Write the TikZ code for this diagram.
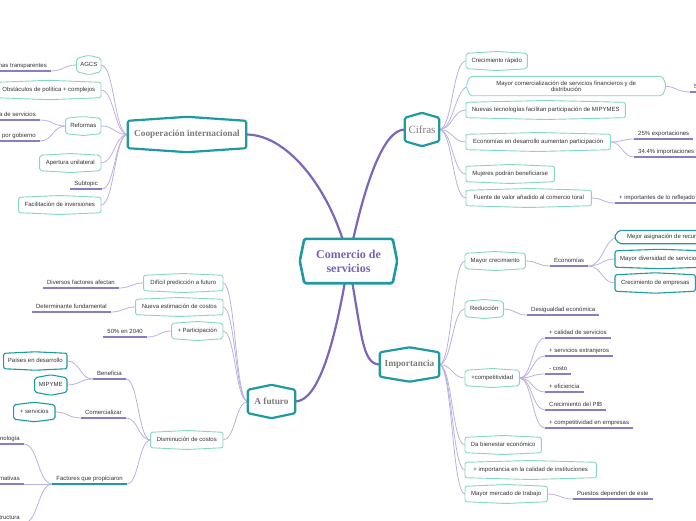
\documentclass[tikz,border=0pt]{standalone}
\usepackage{fontspec}
\setmainfont{Liberation Sans}
\newfontfamily\topicfont{Liberation Serif}
\usetikzlibrary{calc}
\definecolor{teal1}{HTML}{1E9AA0}
\definecolor{mint}{HTML}{86D6C5}
\definecolor{mainline}{HTML}{7D66B8}
\definecolor{lav}{HTML}{BCB0E2}
\definecolor{ulc}{HTML}{8D7CC3}
\definecolor{txt}{HTML}{333333}
\definecolor{topictxt}{HTML}{7B7B7B}
\definecolor{roottxt}{HTML}{7A62B3}
\pgfdeclarelayer{lines}
\pgfdeclarelayer{shapes}
\pgfsetlayers{lines,shapes,main}
\tikzset{
 every node/.style={font=\fontsize{6}{6.6}\selectfont, text=txt},
 bx/.style={inner sep=0pt, minimum height=15pt, text height=4.3pt, text depth=1.3pt},
 tl/.style={inner xsep=4pt, inner ysep=2.1pt, text height=4.3pt, text depth=1.3pt,
   append after command={(\tikzlastnode.south west) edge[draw=#1, line width=1.8pt] (\tikzlastnode.south east)}},
 tl/.default=ulc,
 light/.style={draw=mint, line width=0.9pt, fill=white, rounded corners=2pt},
 dark/.style={draw=teal1, line width=1.1pt, fill=white, rounded corners=2pt},
 topic/.style={draw=teal1, line width=2.2pt, fill=white, rounded corners=1.5pt, line join=round},
 rootst/.style={draw=teal1, line width=2.6pt, fill=white, rounded corners=1.5pt, line join=round},
 mainconn/.style={draw=mainline, line width=2.2pt},
 conn/.style={draw=lav, line width=0.8pt},
 topicnode/.style={inner sep=0pt, text=topictxt, font=\topicfont\bfseries\fontsize{9.3}{11}\selectfont},
}
\newcommand\cn[3][conn]{\begin{pgfonlayer}{lines}\draw[#1] let \p1=(#2), \p2=(#3) in (\p1) .. controls ({0.5*\x1+0.5*\x2},\y1) and ({0.5*\x1+0.5*\x2},\y2) .. (\p2);\end{pgfonlayer}}
\newcommand\mmPeak[3]{\begin{pgfonlayer}{shapes}\draw[#2] (#1.north west) -- ([yshift=#3]#1.north) -- (#1.north east) -- (#1.south east) -- ([yshift=-#3]#1.south) -- (#1.south west) -- cycle;\end{pgfonlayer}}
\newcommand\mmSide[3]{\begin{pgfonlayer}{shapes}\draw[#2] (#1.north west) -- (#1.north east) -- ([xshift=#3]#1.east) -- (#1.south east) -- (#1.south west) -- ([xshift=-#3]#1.west) -- cycle;\end{pgfonlayer}}
\newcommand\mmLeft[3]{\begin{pgfonlayer}{shapes}\draw[#2] (#1.north west) -- (#1.north east) -- (#1.south east) -- (#1.south west) -- ([xshift=-#3]#1.west) -- cycle;\end{pgfonlayer}}
\begin{document}
\begin{tikzpicture}[x=1pt,y=-1pt]
\useasboundingbox (0,0) rectangle (696,520);
% ---------- root and topics
\node[inner sep=0pt, minimum width=88pt, minimum height=44pt, align=center, text=roottxt,
  font=\topicfont\bfseries\fontsize{12}{14}\selectfont] (root) at (348.5,261) {Comercio de\\servicios};
\node[inner sep=0pt, minimum width=34pt, minimum height=23pt, text=topictxt,
  font=\topicfont\fontsize{11}{12}\selectfont] (cifras) at (422,129.5) {Cifras};
\node[topicnode, minimum width=118pt, minimum height=27pt] (coop) at (187,134.5) {Cooperación internacional};
\node[topicnode, minimum width=59pt, minimum height=24pt] (imp) at (409.5,364.5) {Importancia};
\node[topicnode, minimum width=47pt, minimum height=23pt] (fut) at (271.5,401.5) {A futuro};
\mmSide{root}{rootst}{4.5pt}
\mmPeak{cifras}{topic}{5pt}
\mmPeak{coop}{topic}{4pt}
\mmPeak{imp}{topic}{5pt}
\mmPeak{fut}{topic}{5pt}
\begin{pgfonlayer}{lines}
\draw[mainconn] (root.center) .. controls (334,195) and (290,134.5) .. (coop.east);
\draw[mainconn] (root.center) .. controls (364,185) and (383,129.5) .. (cifras.west);
\draw[mainconn] (root.center) .. controls (362,335) and (362,364.5) .. (imp.west);
\draw[mainconn] (root.center) .. controls (335,345) and (318,401.5) .. (fut.east);
\end{pgfonlayer}
% ---------- Cifras
\node[bx, minimum width=61pt, anchor=west] (cr) at (466,61) {Crecimiento rápido};
\node[inner sep=0pt, minimum width=192pt, minimum height=19pt, align=center, anchor=west,
  font=\fontsize{6}{6.3}\selectfont] (mc) at (470,86) {Mayor comercialización de servicios financieros y de\\distribución};
\node[bx, minimum width=159pt, anchor=west] (nt) at (466,110) {Nuevas tecnologías facilitan participación de MIPYMES};
\node[bx, minimum width=144pt, anchor=west] (ed) at (466,142) {Economías en desarrollo aumentan participación};
\node[bx, minimum width=88pt, anchor=west] (mu) at (466,174) {Mujeres podrán beneficiarse};
\node[bx, minimum width=125pt, anchor=west] (fv) at (466,198) {Fuente de valor añadido al comercio toral};
\node[tl, anchor=south west] (c5) at (690,92) {5};
\node[tl, anchor=south west] (exp) at (634,139) {25\% exportaciones};
\node[tl, anchor=south west] (imps) at (634,157) {34.4\% importaciones};
\node[tl, anchor=south west] (rf) at (615,203) {+ importantes de lo reflejado};
\mmPeak{cr}{light}{1.8pt}
\mmSide{mc}{light}{4pt}
\mmPeak{nt}{light}{1.8pt}
\mmPeak{ed}{light}{1.8pt}
\mmPeak{mu}{light}{1.8pt}
\mmPeak{fv}{light}{1.8pt}
\cn{cifras.east}{cr.west}
\cn{cifras.east}{mc.west}
\cn{cifras.east}{nt.west}
\cn{cifras.east}{ed.west}
\cn{cifras.east}{mu.west}
\cn{cifras.east}{fv.west}
\cn{mc.east}{c5.south west}
\cn{ed.east}{exp.south west}
\cn{ed.east}{imps.south west}
\cn{fv.east}{rf.south west}
% ---------- Importancia
\node[bx, minimum width=60pt, anchor=west] (mcr) at (465,261) {Mayor crecimiento};
\node[bx, minimum width=38pt, anchor=west] (red) at (465,309) {Reducción};
\node[bx, minimum width=54pt, anchor=west] (comp) at (465,378) {+competitividad};
\node[bx, minimum width=76pt, anchor=west] (bien) at (465,445) {Da bienestar económico};
\node[bx, minimum width=131pt, anchor=west] (inst) at (465,470) {+ importancia en la calidad de instituciones};
\node[bx, minimum width=82pt, anchor=west] (merc) at (465,494) {Mayor mercado de trabajo};
\node[tl, anchor=south west] (eco) at (550,266) {Economías};
\node[bx, inner xsep=8pt, minimum height=13pt, anchor=west] (mej) at (619,237) {Mejor asignación de recursos};
\node[bx, inner xsep=5pt, minimum height=16pt, anchor=west] (dvs) at (615,259) {Mayor diversidad de servicios};
\node[bx, minimum width=80pt, minimum height=16pt, anchor=west] (emp) at (615,283) {Crecimiento de empresas};
\node[tl, anchor=south west] (des) at (527,315) {Desigualdad económica};
\node[tl, anchor=south west] (k1) at (545,338) {+ calidad de servicios};
\node[tl, anchor=south west] (k2) at (545,356) {+ servicios extranjeros};
\node[tl, anchor=south west] (k3) at (545,374) {- costo};
\node[tl, anchor=south west] (k4) at (545,392) {+ eficiencia};
\node[tl, anchor=south west] (k5) at (545,410) {Crecimiento del PIB};
\node[tl, anchor=south west] (k6) at (545,428) {+ competitividad en empresas};
\node[tl, anchor=south west] (pue) at (573,499) {Puestos dependen de este};
\mmPeak{mcr}{light}{1.8pt}
\mmPeak{red}{light}{1.8pt}
\mmPeak{comp}{light}{1.8pt}
\mmPeak{bien}{light}{1.8pt}
\mmPeak{inst}{light}{1.8pt}
\mmPeak{merc}{light}{1.8pt}
\mmLeft{mej}{dark}{5pt}
\mmPeak{dvs}{dark}{1.5pt}
\mmPeak{emp}{dark}{2pt}
\cn{imp.east}{mcr.west}
\cn{imp.east}{red.west}
\cn{imp.east}{comp.west}
\cn{imp.east}{bien.west}
\cn{imp.east}{inst.west}
\cn{imp.east}{merc.west}
\cn{mcr.east}{eco.south west}
\cn{eco.south east}{mej.west}
\cn{eco.south east}{dvs.west}
\cn{eco.south east}{emp.west}
\cn{red.east}{des.south west}
\cn{comp.east}{k1.south west}
\cn{comp.east}{k2.south west}
\cn{comp.east}{k3.south west}
\cn{comp.east}{k4.south west}
\cn{comp.east}{k5.south west}
\cn{comp.east}{k6.south west}
\cn{merc.east}{pue.south west}
% ---------- Cooperacion internacional
\node[bx, minimum width=24pt, minimum height=13pt, anchor=east] (agcs) at (101,65) {AGCS};
\node[bx, minimum width=104pt, anchor=east] (obs) at (101,90) {Obstáculos de política + complejos};
\node[bx, minimum width=35pt, anchor=east] (refo) at (101,126) {Reformas};
\node[bx, minimum width=61pt, anchor=east] (ape) at (101,163) {Apertura unilateral};
\node[tl, anchor=south east] (sub) at (102,189) {Subtopic};
\node[bx, minimum width=82pt, anchor=east] (finv) at (101,205) {Facilitación de inversiones};
\node[tl, anchor=south east] (nor) at (51,71) {Normas transparentes};
\node[tl, anchor=south east] (ser) at (40,120) {Apertura de servicios};
\node[tl, anchor=south east] (gob) at (40,141) {Regulación por gobierno};
\mmPeak{agcs}{light}{3pt}
\mmPeak{obs}{light}{2pt}
\mmPeak{refo}{light}{1.8pt}
\mmPeak{ape}{light}{1.8pt}
\mmPeak{finv}{light}{1.8pt}
\cn{coop.west}{agcs.east}
\cn{coop.west}{obs.east}
\cn{coop.west}{refo.east}
\cn{coop.west}{ape.east}
\cn{coop.west}{sub.south east}
\cn{coop.west}{finv.east}
\cn{agcs.west}{nor.south east}
\cn{refo.west}{ser.south east}
\cn{refo.west}{gob.south east}
% ---------- A futuro
\node[bx, minimum width=79pt, anchor=east] (dif) at (223,283) {Difícil predicción a futuro};
\node[bx, minimum width=87pt, anchor=east] (nue) at (223,307) {Nueva estimación de costos};
\node[bx, minimum width=51pt, anchor=east] (par) at (223,331) {+ Participación};
\node[bx, minimum width=72pt, anchor=east] (dis) at (223,440) {Disminución de costos};
\node[tl, anchor=south east] (dfa) at (119,288) {Diversos factores afectan};
\node[tl, anchor=south east] (det) at (111,312) {Determinante fundamental};
\node[tl, anchor=south east] (p50) at (147,337) {50\% en 2040};
\node[tl, anchor=south east] (ben) at (126,379) {Beneficia};
\node[tl, anchor=south east] (com) at (126,418) {Comercializar};
\node[tl=teal1, anchor=south east] (fqp) at (127,484) {Factores que propiciaron};
\node[bx, minimum width=63pt, anchor=east] (pai) at (67,361) {Países en desarrollo};
\node[bx, minimum width=32pt, minimum height=14pt, anchor=east] (mip) at (67,385) {MIPYME};
\node[bx, minimum width=41pt, minimum height=14pt, anchor=east] (mas) at (55,412) {+ servicios};
\node[tl, anchor=south east] (tec) at (24,444) {Tecnología};
\node[tl, anchor=south east] (alt) at (24,484) {Alternativas};
\node[tl, anchor=south east] (inf) at (24,523) {Infraestructura};
\mmPeak{dif}{light}{1.8pt}
\mmPeak{nue}{light}{1.8pt}
\mmPeak{par}{light}{1.8pt}
\mmPeak{dis}{light}{1.8pt}
\mmPeak{pai}{dark}{1.5pt}
\mmPeak{mip}{dark}{3pt}
\mmPeak{mas}{dark}{2.5pt}
\cn{fut.west}{dif.east}
\cn{fut.west}{nue.east}
\cn{fut.west}{par.east}
\cn{fut.west}{dis.east}
\cn{dif.west}{dfa.south east}
\cn{nue.west}{det.south east}
\cn{par.west}{p50.south east}
\cn{dis.west}{ben.south east}
\cn{dis.west}{com.south east}
\cn{dis.west}{fqp.south east}
\cn{ben.south west}{pai.east}
\cn{ben.south west}{mip.east}
\cn{com.south west}{mas.east}
\cn{fqp.south west}{tec.south east}
\cn{fqp.south west}{alt.south east}
\cn{fqp.south west}{inf.south east}
\end{tikzpicture}
\end{document}
